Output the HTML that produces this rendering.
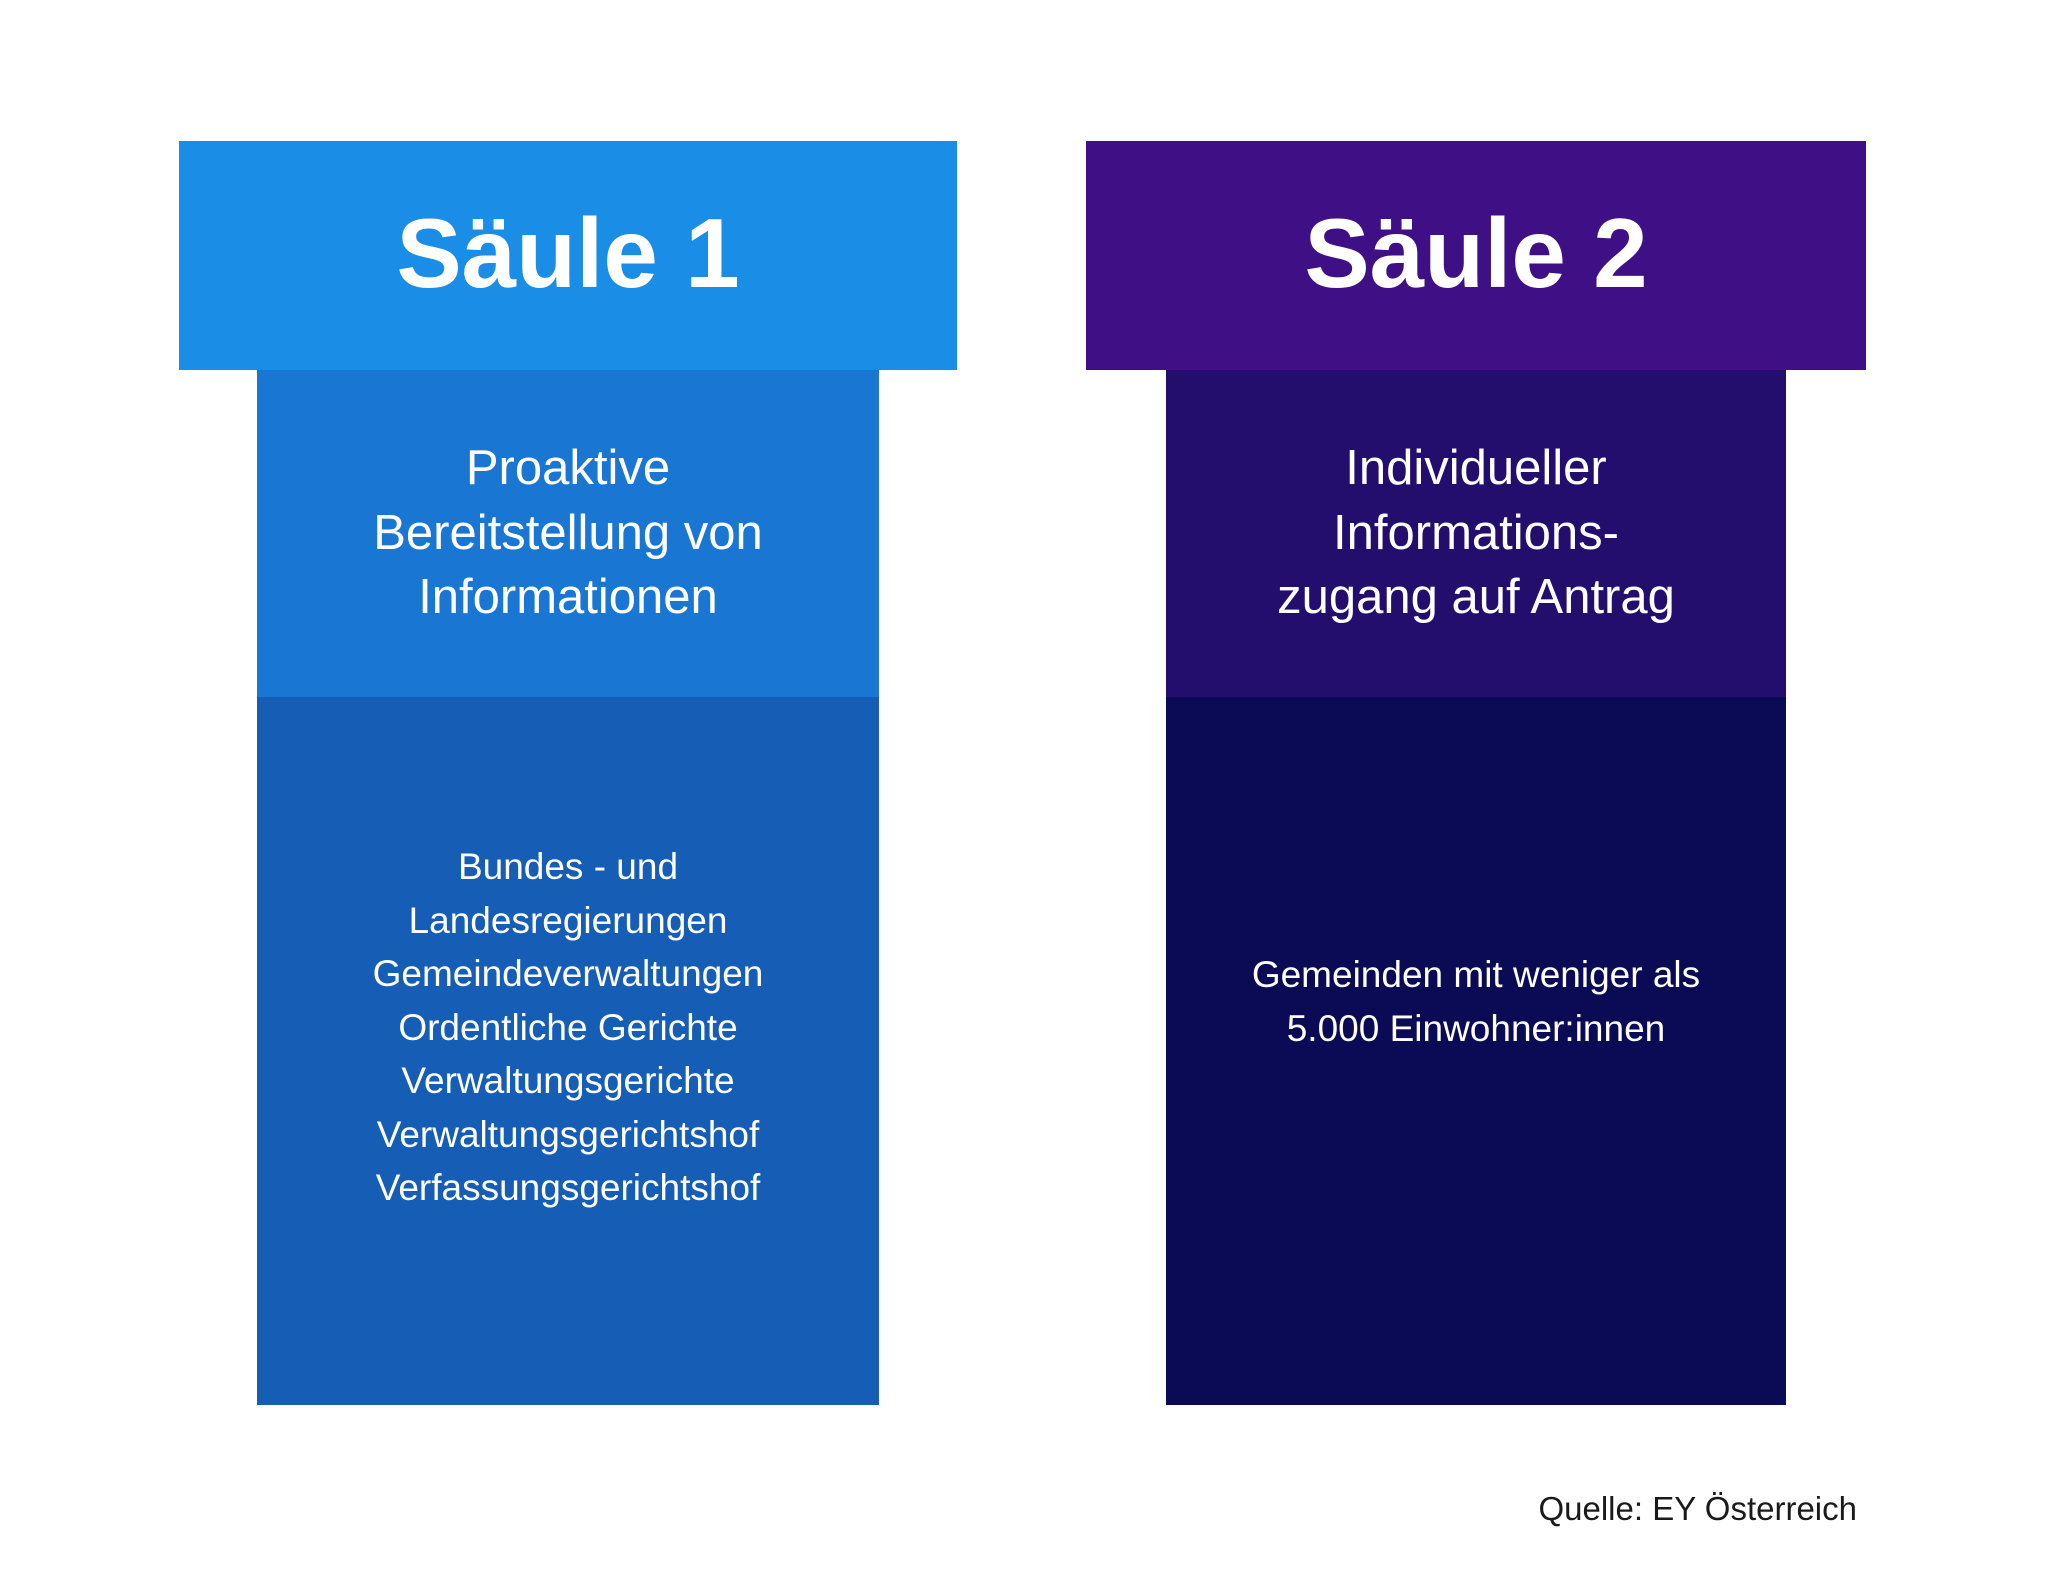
<!DOCTYPE html>
<html><head><meta charset="utf-8"><style>
html,body{margin:0;padding:0;background:#fff;}
body{width:2048px;height:1582px;position:relative;overflow:hidden;font-family:"Liberation Sans",sans-serif;color:#fff;}
.b{position:absolute;}
.t{position:absolute;left:0;right:0;text-align:center;}
</style></head><body>
<div class="b" style="left:179px;top:141px;width:778px;height:229px;background:#1a8de6"></div>
<div class="b" style="left:257px;top:370px;width:622px;height:327px;background:#1976d2"></div>
<div class="b" style="left:257px;top:697px;width:622px;height:708px;background:#165db5"></div>
<div class="b" style="left:1086px;top:141px;width:780px;height:229px;background:#3f1085"></div>
<div class="b" style="left:1166px;top:370px;width:620px;height:327px;background:#230e6e"></div>
<div class="b" style="left:1166px;top:697px;width:620px;height:708px;background:#0b0a55"></div>

<div class="b" style="left:179px;top:141px;width:778px;height:229px;">
<div class="t" style="top:52px;font-size:98px;font-weight:bold;line-height:120px;">Säule 1</div></div>
<div class="b" style="left:1086px;top:141px;width:780px;height:229px;">
<div class="t" style="top:52px;font-size:98px;font-weight:bold;line-height:120px;">Säule 2</div></div>

<div class="b" style="left:257px;top:436px;width:622px;">
<div class="t" style="font-size:49px;line-height:64.5px;">Proaktive<br>Bereitstellung von<br>Informationen</div></div>
<div class="b" style="left:1166px;top:436px;width:620px;">
<div class="t" style="font-size:49px;line-height:64.5px;">Individueller<br>Informations-<br>zugang auf Antrag</div></div>

<div class="b" style="left:257px;top:840px;width:622px;">
<div class="t" style="font-size:37px;line-height:53.5px;">Bundes - und<br>Landesregierungen<br>Gemeindeverwaltungen<br>Ordentliche Gerichte<br>Verwaltungsgerichte<br>Verwaltungsgerichtshof<br>Verfassungsgerichtshof</div></div>
<div class="b" style="left:1166px;top:948px;width:620px;">
<div class="t" style="font-size:37px;line-height:53.5px;">Gemeinden mit weniger als<br>5.000 Einwohner:innen</div></div>

<div class="b" style="right:191px;top:1489px;font-size:33px;line-height:40px;color:#1a1a1a;">Quelle: EY Österreich</div>
</body></html>
